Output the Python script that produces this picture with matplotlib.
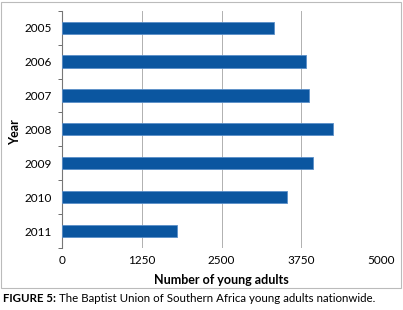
import matplotlib
matplotlib.use("Agg")
import matplotlib.pyplot as plt
from matplotlib.patches import Rectangle

years = ["2005", "2006", "2007", "2008", "2009", "2010", "2011"]
values = [3317, 3825, 3867, 4254, 3930, 3531, 1810]
xticks = [0, 1250, 2500, 3750, 5000]

plt.rcParams['font.family'] = ['Lato', 'DejaVu Sans']

fig = plt.figure(figsize=(4.03, 3.10), dpi=100)
ax = fig.add_axes([62/403, 1-248/310, (381-62)/403, (248-10.7)/310])

ypos = list(range(len(years)))
ax.barh(ypos, values, height=0.36, color="#0b56a0", edgecolor="#5b8fc8", linewidth=0.6, zorder=3)
ax.set_ylim(len(years)-0.5, -0.5)
ax.set_xlim(0, 5000)
ax.set_xticks(xticks)
ax.set_xticklabels([str(t) for t in xticks], fontsize=8.5)
ax.set_yticks(ypos)
ax.set_yticklabels(years, fontsize=8.5)
ax.tick_params(axis='y', length=0, pad=7)
ax.set_yticks([i-0.5 for i in range(len(years)+1)], minor=True)
ax.tick_params(axis='y', which='minor', length=3, color="#555555", direction='out')
ax.tick_params(axis='x', length=0, pad=5)
ax.grid(axis='x', color="#b0b0b0", linewidth=0.7, zorder=0)
for s in ['top', 'right', 'bottom']:
    ax.spines[s].set_visible(False)
ax.spines['left'].set_color("#777777")
ax.spines['left'].set_linewidth(0.8)
ax.set_xlabel("Number of young adults", fontsize=9, fontweight='bold', labelpad=6)
ax.set_ylabel("Year", fontsize=9, fontweight='bold', va='center')
ax.yaxis.set_label_coords((15-62)/319, 0.49)

fig.patches.append(Rectangle((1/403, 1-288/310), 400/403, 286/310, transform=fig.transFigure,
                             fill=False, edgecolor="#bbbbbb", linewidth=0.8))
t1 = fig.text(3/403, 1-299/310, "FIGURE 5:", fontsize=8.3, fontweight='bold', va='center', ha='left')
fig.canvas.draw()
bb = t1.get_window_extent(renderer=fig.canvas.get_renderer())
fig.text((bb.x1 + 3)/403, 1-299/310, "The Baptist Union of Southern Africa young adults nationwide.",
         fontsize=8.3, va='center', ha='left')

fig.savefig("out.png", dpi=100)
